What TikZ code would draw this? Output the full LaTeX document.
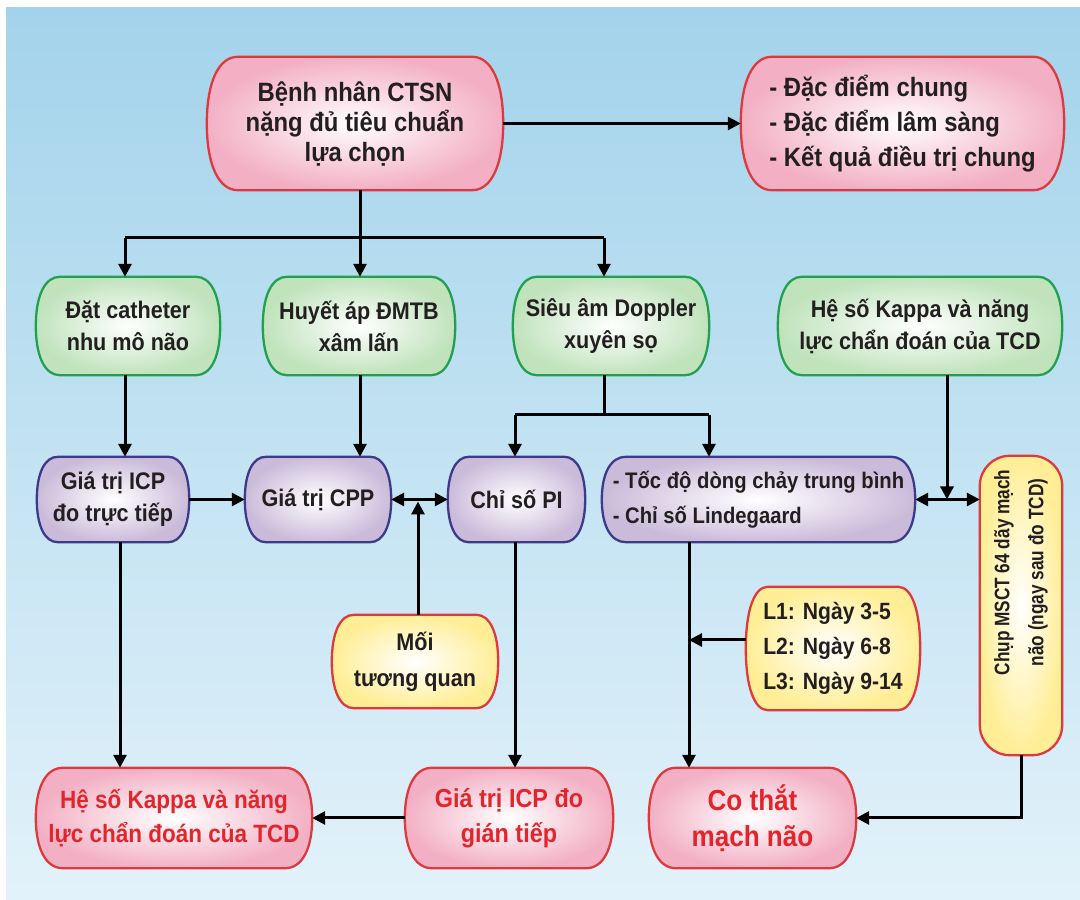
\documentclass[tikz,border=0pt]{standalone}
\usepackage{fontspec}
\setmainfont{Liberation Sans}[FakeStretch=0.9]
\newfontfamily\narrowfont{Liberation Sans}[FakeStretch=0.82]
\usetikzlibrary{arrows.meta,calc}
\pgfdeclarelayer{back}
\pgfdeclarelayer{bg}
\pgfsetlayers{back,bg,main}
\definecolor{bgtop}{HTML}{A3D3EB}
\definecolor{bgmid}{HTML}{B2DAEE}
\definecolor{bgbot}{HTML}{E2F2FA}
\definecolor{pinkf}{HTML}{F3B0C5}
\definecolor{redb}{HTML}{DE3A3E}
\definecolor{greenf}{HTML}{C0E3BC}
\definecolor{greenb}{HTML}{22A052}
\definecolor{purplef}{HTML}{CBBBDA}
\definecolor{purpleb}{HTML}{3E3A8A}
\definecolor{yellowf}{HTML}{FFEE96}
\definecolor{txt}{HTML}{231F20}
\definecolor{redtxt}{HTML}{E1262B}
% capsule outline behind a named node: #1 node, #2 style, #3 horizontal corner radius
\newcommand\capsule[3]{%
 \begin{pgfonlayer}{bg}
 \path[#2] let \p1=(#1.north east), \p2=(#1.south west), \n1={(\y1-\y2)/2}, \n2={#3} in
  (\x2+\n2,\y1) -- (\x1-\n2,\y1)
  .. controls (\x1-0.38*\n2,\y1) and (\x1,\y1-0.38*\n1) .. (\x1,\y1-\n1)
  .. controls (\x1,\y2+0.38*\n1) and (\x1-0.38*\n2,\y2) .. (\x1-\n2,\y2)
  -- (\x2+\n2,\y2)
  .. controls (\x2+0.38*\n2,\y2) and (\x2,\y2+0.38*\n1) .. (\x2,\y2+\n1)
  .. controls (\x2,\y1-0.38*\n1) and (\x2+0.38*\n2,\y1) .. cycle;
 \end{pgfonlayer}}
\begin{document}
\begin{tikzpicture}[x=1pt,y=1pt,
  box/.style={align=center, inner sep=0pt, text=txt},
  outline/.style={line width=2.3pt},
  pinkshape/.style={outline, draw=redb, inner color=white, outer color=pinkf},
  greenshape/.style={outline, draw=greenb, inner color=white, outer color=greenf},
  purpleshape/.style={outline, draw=purpleb, inner color=white, outer color=purplef},
  yellowshape/.style={outline, draw=redb, inner color=white, outer color=yellowf},
  greenbox/.style={box, font=\bfseries\fontsize{24}{32}\selectfont, minimum height=98pt},
  purplebox/.style={box, font=\bfseries\fontsize{24}{32}\selectfont, minimum height=85pt},
  redbox/.style={box, minimum height=100pt, text=redtxt},
  conn/.style={line width=3pt, draw=black},
  arr/.style={conn, -{Triangle[length=13pt,width=13pt]}},
  darr/.style={conn, {Triangle[length=13pt,width=13pt]}-{Triangle[length=13pt,width=13pt]}}
]
\useasboundingbox (0,0) rectangle (1080,900);
\begin{pgfonlayer}{back}
\shade[top color=bgtop, middle color=bgmid, bottom color=bgbot] (6,0) rectangle (1080,892);
\end{pgfonlayer}

% row 1
\node[box, minimum width=296pt, minimum height=133pt,
  font=\bfseries\fontsize{26.5}{30}\selectfont] (top) at (355,776.5)
  {Bệnh nhân CTSN\\nặng đủ tiêu chuẩn\\lựa chọn};
\node[box, minimum width=323pt, minimum height=133pt, align=left,
  font=\bfseries\fontsize{26.5}{35}\selectfont] (right) at (902.5,776.5)
  {- Đặc điểm chung\\- Đặc điểm lâm sàng\\- Kết quả điều trị chung};
\capsule{top}{pinkshape}{31}
\capsule{right}{pinkshape}{31}

% row 2
\node[greenbox, minimum width=184pt] (gA) at (128,574) {Đặt catheter\\nhu mô não};
\node[greenbox, minimum width=192pt] (gB) at (359,574) {Huyết áp ĐMTB\\xâm lấn};
\node[greenbox, minimum width=196pt] (gC) at (611,574) {Siêu âm Doppler\\xuyên sọ};
\node[greenbox, minimum width=284pt] (gD) at (920,574) {Hệ số Kappa và năng\\lực chẩn đoán của TCD};
\capsule{gA}{greenshape}{24}
\capsule{gB}{greenshape}{24}
\capsule{gC}{greenshape}{24}
\capsule{gD}{greenshape}{24}

% row 3
\node[purplebox, minimum width=152pt] (ICP) at (113,400.5) {Giá trị ICP\\đo trực tiếp};
\node[purplebox, minimum width=146pt] (CPP) at (318,400.5) {Giá trị CPP};
\node[purplebox, minimum width=137pt] (PI) at (516.5,400.5) {Chỉ số PI};
\node[purplebox, minimum width=313pt, align=left, font=\bfseries\fontsize{22.5}{35}\selectfont] (tocdo) at (758.5,400.5)
  {- Tốc độ dòng chảy trung bình\\- Chỉ số Lindegaard};
\capsule{ICP}{purpleshape}{21}
\capsule{CPP}{purpleshape}{21}
\capsule{PI}{purpleshape}{21}
\capsule{tocdo}{purpleshape}{24}

\node[box, minimum width=82pt, minimum height=299pt] (MSCT) at (1021,294.5) {};
\begin{pgfonlayer}{bg}
\path[yellowshape, rounded corners=30pt] (MSCT.south west) rectangle (MSCT.north east);
\end{pgfonlayer}
\node[box, rotate=90, font=\narrowfont\bfseries\fontsize{21}{34}\selectfont] at ([yshift=33pt]MSCT.center)
  {Chụp MSCT 64 dãy mạch\\não (ngay sau đo TCD)};

% middle
\node[box, minimum width=166pt, minimum height=93pt,
  font=\bfseries\fontsize{24}{36}\selectfont] (moi) at (415,238.5) {Mối\\tương quan};
\node[box, minimum width=174pt, minimum height=123pt, align=left,
  font=\bfseries\fontsize{23.5}{35}\selectfont] (L) at (833,251.5)
  {L1: Ngày 3-5\\L2: Ngày 6-8\\L3: Ngày 9-14};
\capsule{moi}{yellowshape}{22}
\capsule{L}{yellowshape}{22}

% row 4
\node[redbox, minimum width=276pt, font=\bfseries\fontsize{25}{34}\selectfont] (bK) at (174,82)
  {Hệ số Kappa và năng\\lực chẩn đoán của TCD};
\node[redbox, minimum width=208pt, font=\bfseries\fontsize{26}{35}\selectfont] (icp2) at (509,82)
  {Giá trị ICP đo\\gián tiếp};
\node[redbox, minimum width=207pt, font=\bfseries\fontsize{29}{36}\selectfont] (co) at (752.5,82)
  {Co thắt\\mạch não};
\capsule{bK}{pinkshape}{27}
\capsule{icp2}{pinkshape}{27}
\capsule{co}{pinkshape}{27}

% helper coordinates
\coordinate (tx) at (360,662);
\coordinate (jl) at (125,662);
\coordinate (jr) at (604,662);
\coordinate (dj) at (604,485);
\coordinate (dl) at (515,485);
\coordinate (dr) at (709,485);
\coordinate (mx) at (418,0);
\coordinate (kx) at (947,0);
\coordinate (ix) at (120,0);
\coordinate (cx) at (689,0);

% connectors
\draw[arr] (top.east) -- (right.west);
\draw[arr] (top.south -| tx) -- (tx |- gB.north);
\draw[conn] (jl) -- (jr);
\draw[arr] (jl) -- (jl |- gA.north);
\draw[arr] (jr) -- (jr |- gC.north);

\draw[arr] (gA.south -| jl) -- (jl |- ICP.north);
\draw[arr] (gB.south -| tx) -- (tx |- CPP.north);
\draw[conn] (gC.south -| dj) -- (dj);
\draw[conn] (dl) -- (dr);
\draw[arr] (dl) -- (dl |- PI.north);
\draw[arr] (dr) -- (dr |- tocdo.north);
\draw[arr] (gD.south -| kx) -- (kx |- tocdo.east);

\draw[arr] (ICP.east) -- (CPP.west);
\draw[darr] (CPP.east) -- (PI.west);
\draw[arr] (moi.north -| mx) -- ([yshift=-2pt]mx |- CPP.east);
\draw[darr] (tocdo.east) -- (tocdo.east -| MSCT.west);

\draw[arr] (ICP.south -| ix) -- (ix |- bK.north);
\draw[arr] (PI.south -| dl) -- (dl |- icp2.north);
\draw[arr] (icp2.west) -- (bK.east);
\draw[arr] (tocdo.south -| cx) -- (cx |- co.north);
\draw[arr] ([yshift=8.5pt]L.west) -- ([yshift=8.5pt]L.west -| cx);
\draw[arr] (MSCT.south) -- (MSCT.south |- co.east) -- (co.east);
\end{tikzpicture}
\end{document}
